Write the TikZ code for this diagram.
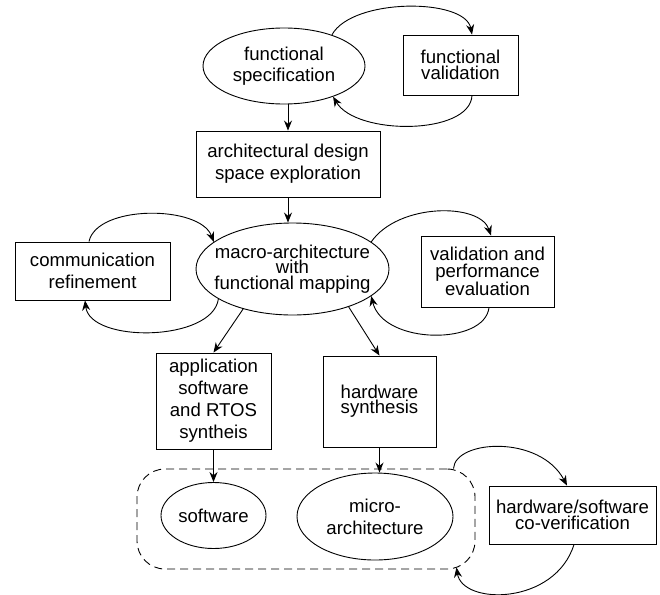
\documentclass[tikz,border=0pt]{standalone}
\usepackage{fontspec}
\setmainfont{Liberation Sans}
\usetikzlibrary{shapes.geometric,arrows.meta}
\newcommand\fsz[1]{\fontsize{18.6}{#1}\selectfont}
\begin{document}
\begin{tikzpicture}[x=1pt,y=-1pt,
  every node/.style={font=\fsz{21}},
  box/.style={draw, rectangle, inner sep=0pt, line width=0.9pt, align=center},
  oval/.style={draw, ellipse, inner sep=0pt, line width=0.9pt},
  lbl/.style={align=center, inner sep=0pt},
  arr/.style={line width=0.9pt, -{Stealth[length=10pt,width=8pt]}}]
\useasboundingbox (0,0) rectangle (660,594);

% nodes
\node[oval, minimum width=162, minimum height=76] (fs) at (284,66) {};
\node[lbl, font=\fsz{21}] (fst) at (fs) {functional\\specification};
\node[box, minimum width=115, minimum height=60, font=\fsz{15.7}] (fv) at (460.5,65) {functional\\validation};
\node[box, minimum width=184, minimum height=66, font=\fsz{22}] (arch) at (288,164) {architectural design\\space exploration};
\node[oval, minimum width=193, minimum height=92] (macro) at (292.5,269) {};
\node[lbl, font=\fsz{15.5}] (macrot) at (macro) {macro-architecture\\with\\functional mapping};
\node[box, minimum width=155, minimum height=58, font=\fsz{21.7}] (comm) at (92.5,271) {communication\\refinement};
\node[box, minimum width=133, minimum height=71, font=\fsz{16.7}] (val) at (487.5,271.5) {validation and\\performance\\evaluation};
\node[box, minimum width=115, minimum height=96, font=\fsz{22}] (app) at (213.5,401) {application\\software\\and RTOS\\syntheis};
\node[box, minimum width=113, minimum height=91, font=\fsz{15}] (hw) at (379.5,401.5) {hardware\\synthesis};
\node[draw, dashed, dash pattern=on 8pt off 5pt, rounded corners=28pt, minimum width=338, minimum height=100, line width=0.9pt] (grp) at (306,519) {};
\node[oval, minimum width=105, minimum height=66] (sw) at (213.5,515.5) {};
\node[lbl] (swt) at (sw) {software};
\node[oval, minimum width=156, minimum height=87] (micro) at (375,516.5) {};
\node[lbl, font=\fsz{21.7}] (microt) at (micro) {micro-\\architecture};
\node[box, minimum width=167, minimum height=58, font=\fsz{16}] (cv) at (572.5,515) {hardware/software\\co-verification};

% straight arrows
\draw[arr] (arch.north |- fs.south) -- (arch.north);
\draw[arr] (arch.south) -- (arch.south |- macro.north);
\draw[arr] (macro.219) -- (app.north);
\draw[arr] (macro.-34) -- (hw.north);
\draw[arr] (app.south) -- (sw.north);
\draw[arr] (hw.south) -- (hw.south |- micro.north);

% loops
\draw[arr] (fs.33) .. controls +(20,-37) and +(-7,-37) .. ([xshift=11.5pt]fv.north);
\draw[arr] ([xshift=11.5pt]fv.south) .. controls +(-2,40) and +(23,39) .. (fs.-32);
\draw[arr] ([xshift=-3.5pt]comm.north) .. controls +(8,-37) and +(-14,-37) .. (macro.161);
\draw[arr] (macro.202) .. controls +(-6,43) and +(5,43) .. ([xshift=-7.5pt]comm.south);
\draw[arr] (macro.19) .. controls +(27,-39) and +(-11,-33) .. ([xshift=3.5pt]val.north);
\draw[arr] ([xshift=1.5pt]val.south) .. controls +(-4,38) and +(12,49) .. (macro.-19);
\draw[arr] ([xshift=-22pt]grp.north east) .. controls +(2,-29) and +(-27,-51) .. ([xshift=-5.5pt]cv.north);
\draw[arr] ([xshift=1.5pt]cv.south) .. controls +(-19,61) and +(6,38) .. ([xshift=-19pt,yshift=2pt]grp.south east);
\end{tikzpicture}
\end{document}
